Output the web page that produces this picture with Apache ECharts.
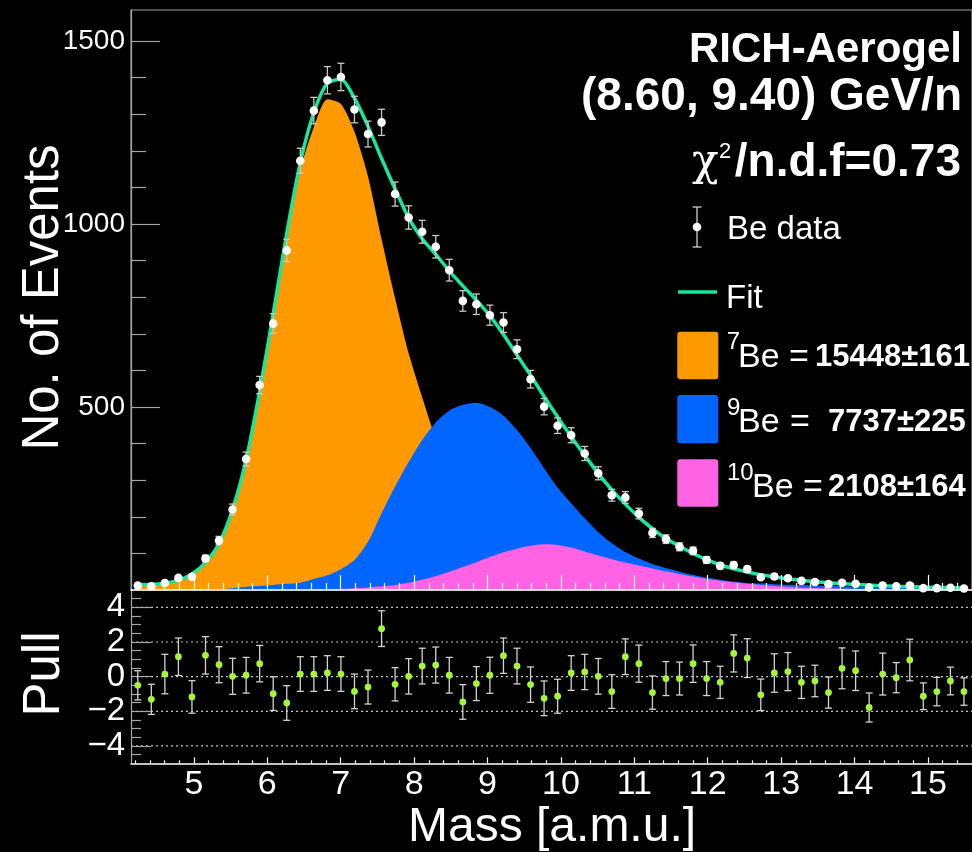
<!DOCTYPE html>
<html>
<head>
<meta charset="utf-8">
<title>Be mass fit - RICH-Aerogel</title>
<script src="https://cdn.jsdelivr.net/npm/echarts@6.0.0/dist/echarts.min.js"></script>
<style>
  html, body { margin: 0; padding: 0; background: #000; }
  #chart { width: 972px; height: 852px; }
</style>
</head>
<body>
<div id="chart"></div>
<script>
// Histogram binning of the reconstructed mass [a.m.u.]
const massLow = 4.1436;
const binWidth = 0.1845;
const massHigh = 15.6;

// Observed Be counts per bin
const dataCounts = [12, 10, 19, 33, 36, 86, 135, 220, 358, 560,
  728, 928, 1173, 1310, 1393, 1402, 1313, 1246, 1278, 1082,
  1018, 979, 938, 874, 790, 781, 751, 731, 658, 576,
  501, 449, 423, 373, 319, 259, 253, 209, 156, 139,
  118, 107, 82, 66, 68, 57, 35, 37, 32, 25,
  22, 16, 20, 17, 7, 12, 10, 12, 5, 5,
  6, 4];

// Total fit per bin
const fitTotal = [13.5, 15.5, 18.5, 27, 44, 75, 127, 220, 356, 543,
  755, 975, 1168, 1305, 1385, 1396, 1344, 1267, 1179, 1096,
  1017, 960, 917, 872, 831, 792, 749, 698, 642, 587,
  529, 473, 419, 368, 318.6, 273.5, 234.7, 198.6, 168, 140.6,
  119.6, 99.7, 83, 69, 58, 49, 41.5, 35.5, 30.5, 26.5,
  23, 20, 17.5, 15.3, 13.4, 11.8, 10.4, 9.2, 8.2, 7.3,
  6.5, 5.8];

// Isotope templates
const be7 = [13.5, 15.5, 18.5, 27, 44, 74.5, 125, 215, 347, 532,
  741, 958, 1148, 1265, 1341, 1328, 1252, 1130, 959, 797,
  647, 527, 414, 327, 261, 204, 159, 119, 92, 78,
  71, 70, 66, 67, 67, 61.5, 55.7, 45.6, 38, 29.6,
  25.6, 21.7, 18, 15, 14, 13, 10, 8.5, 7, 6,
  5, 4.2, 3.5, 3, 2.5, 2.1, 1.8, 1.5, 1.3, 1.1,
  0.9, 0.8];
const be9 = [0, 0, 0, 0, 0, 0.5, 2, 5, 9, 11,
  14, 17, 20, 30, 40, 57, 82, 132, 210, 283,
  350, 410, 458, 490, 506, 512, 500, 476, 437, 388,
  333, 280, 237, 196, 158, 128, 104, 86, 71, 60,
  50, 41, 34, 28, 23, 19, 17.5, 16, 14.5, 13.5,
  12.5, 11.3, 10.5, 9.3, 8.4, 7.7, 6.9, 6.3, 5.7, 5.2,
  4.7, 4.2];
const be10 = [0, 0, 0, 0, 0, 0, 0, 0, 0, 0,
  0, 0, 0, 1, 2, 3, 5, 7, 10, 14,
  20, 28, 38, 50, 63, 76, 90, 103, 113, 121,
  125, 123, 116, 105, 94, 84, 75, 67, 59, 51,
  44, 37, 31, 26, 21, 17, 14, 11, 9, 7,
  5.5, 4.5, 3.5, 3, 2.5, 2, 1.7, 1.4, 1.2, 1,
  0.9, 0.8];

// Pulls and their uncertainties
const pullValues = [-0.50, -1.31, 0.15, 1.15, -1.17, 1.23, 0.69, 0.02, 0.08, 0.75,
  -0.98, -1.52, 0.15, 0.15, 0.21, 0.15, -0.85, -0.60, 2.77, -0.44,
  0.02, 0.61, 0.67, 0.08, -1.46, -0.40, 0.08, 1.21, 0.61, -0.46,
  -1.25, -1.13, 0.21, 0.27, 0.02, -0.86, 1.15, 0.75, -0.92, -0.11,
  -0.11, 0.75, -0.11, -0.33, 1.34, 1.07, -1.05, 0.21, 0.29, -0.33,
  -0.25, -0.92, 0.48, 0.34, -1.78, 0.15, -0.06, 0.96, -1.13, -0.86,
  -0.25, -0.86];
const pullErrors = [0.84, 0.87, 1.14, 1.08, 0.94, 1.08, 1.04, 1.04, 1.03, 1.05,
  0.97, 1.00, 1.00, 1.00, 1.00, 1.00, 1.00, 0.98, 1.03, 0.96,
  1.02, 1.03, 1.04, 1.03, 1.00, 0.98, 1.04, 1.02, 1.03, 1.02,
  1.00, 0.98, 1.00, 1.02, 1.03, 0.97, 1.03, 1.07, 0.96, 0.98,
  0.95, 1.08, 0.98, 0.93, 1.07, 1.12, 0.91, 1.11, 1.10, 0.93,
  0.91, 0.90, 1.18, 1.14, 0.84, 1.21, 0.87, 1.20, 0.77, 0.82,
  0.80, 0.79];

// Tick labels
const countTicks = [500, 1000, 1500];
const massTicks = [5, 6, 7, 8, 9, 10, 11, 12, 13, 14, 15];
const pullTicks = [-4, -2, 0, 2, 4];

// Minor tick positions
const countMinor = [];
for (let v = 100; v < 1585; v += 100) if (v % 500 !== 0) countMinor.push(v);
const massMinor = [];
for (let k = 21; k <= 78; k++) if (k % 5 !== 0) massMinor.push(k / 5);
const pullMinor = [];
for (let k = -9; k <= 9; k++) if (k % 4 !== 0) pullMinor.push(k / 2);

const binCenters = dataCounts.map((_, i) => massLow + binWidth * (i + 0.5));

const FONT = '"Liberation Sans", Arial, Helvetica, sans-serif';
const C7 = '#ff9900', C9 = '#0066ff', C10 = '#ff63e3', CFIT = '#14e89c';
const GRAY = '#a6a6a6';

function areaSeries(name, values, color) {
  return {
    name, type: 'line', xAxisIndex: 0, yAxisIndex: 0,
    data: binCenters.map((x, i) => [x, values[i]]),
    showSymbol: false, smooth: 0.25, silent: true,
    lineStyle: { width: 0 }, areaStyle: { color, opacity: 1 }, z: 2
  };
}

function errorBarItem(color, dotColor, radius, cap) {
  return function (params, api) {
    const x = api.value(0), y = api.value(1), e = api.value(2);
    const c = api.coord([x, y]);
    const hi = api.coord([x, y + e]);
    const lo = api.coord([x, y - e]);
    const st = { stroke: color, lineWidth: 1.3 };
    return {
      type: 'group',
      children: [
        { type: 'line', shape: { x1: c[0], y1: hi[1], x2: c[0], y2: lo[1] }, style: st },
        { type: 'line', shape: { x1: c[0] - cap, y1: hi[1], x2: c[0] + cap, y2: hi[1] }, style: st },
        { type: 'line', shape: { x1: c[0] - cap, y1: lo[1], x2: c[0] + cap, y2: lo[1] }, style: st },
        { type: 'circle', shape: { cx: c[0], cy: c[1], r: radius }, style: { fill: dotColor } }
      ]
    };
  };
}

function txt(x, y, s, size, opt) {
  opt = opt || {};
  return {
    type: 'text', x, y, z: 100, rotation: opt.rot || 0,
    style: {
      text: s, fill: '#fff',
      font: (opt.bold ? 'bold ' : '') + size + 'px ' + (opt.family || FONT),
      textAlign: opt.align || 'left', textVerticalAlign: 'middle'
    }
  };
}

function hAxis(grid, ticks, len, opts) {
  return Object.assign({
    type: 'value', gridIndex: grid, min: massLow, max: massHigh, position: 'bottom', z: 5,
    axisLine: { show: false, onZero: false },
    axisTick: { show: true, inside: true, length: len, customValues: ticks, lineStyle: { color: '#fff', width: 1.2 } },
    axisLabel: { show: false }, splitLine: { show: false }
  }, opts || {});
}

function vAxis(grid, min, max, ticks, len, opts) {
  return Object.assign({
    type: 'value', gridIndex: grid, min, max, position: 'left', z: 5,
    axisLine: { show: false, onZero: false },
    axisTick: { show: true, inside: true, length: len, customValues: ticks, lineStyle: { color: GRAY, width: 1.2 } },
    axisLabel: { show: false }, splitLine: { show: false }
  }, opts || {});
}

const pullGridLines = pullTicks.map(v => ({
  type: 'line', xAxisIndex: 2, yAxisIndex: 2, silent: true, showSymbol: false, z: 1,
  data: [[massLow, v], [massHigh, v]],
  lineStyle: { color: '#c4c4c4', width: 1.2, type: [2, 3] }
}));

const chart = echarts.init(document.getElementById('chart'), null, { renderer: 'canvas' });
chart.setOption({
  backgroundColor: '#000',
  animation: false,
  grid: [
    { left: 131, top: 10, width: 849.5, height: 580, show: true, borderColor: '#9c9c9c', borderWidth: 1.2, backgroundColor: 'transparent' },
    { left: 131, top: 590, width: 849.5, height: 173.3 }
  ],
  xAxis: [
    hAxis(0, massTicks, 15, { axisLine: { show: true, onZero: false, lineStyle: { color: '#fff', width: 1.5 } } }),
    hAxis(0, massMinor, 7),
    hAxis(1, massTicks, 6, {
      axisLine: { show: true, onZero: false, lineStyle: { color: '#fff', width: 1.5 } },
      axisLabel: { show: true, customValues: massTicks, color: '#fff', fontSize: 34, fontFamily: FONT, margin: 4 }
    }),
    hAxis(1, massMinor, 3)
  ],
  yAxis: [
    vAxis(0, 0, 1585, countTicks, 29, {
      axisLine: { show: true, onZero: false, lineStyle: { color: GRAY, width: 1.2 } },
      axisLabel: {
        show: true, customValues: countTicks, color: '#fff', fontSize: 28, fontFamily: FONT, margin: 6,
        formatter: v => String(v)
      }
    }),
    vAxis(0, 0, 1585, countMinor, 15),
    vAxis(1, -5, 5, pullTicks, 20, {
      axisLine: { show: true, onZero: false, lineStyle: { color: GRAY, width: 1.2 } },
      axisLabel: {
        show: true, customValues: pullTicks, color: '#fff', fontSize: 33, fontFamily: FONT, margin: 6,
        formatter: v => (v < 0 ? '\u2212' + Math.abs(v) : String(v))
      }
    }),
    vAxis(1, -5, 5, pullMinor, 10)
  ],
  series: [
    areaSeries('7Be', be7, C7),
    areaSeries('9Be', be9, C9),
    areaSeries('10Be', be10, C10),
    {
      name: 'Fit', type: 'line', xAxisIndex: 0, yAxisIndex: 0, silent: true,
      data: binCenters.map((x, i) => [x, fitTotal[i]]),
      showSymbol: false, smooth: 0.25, z: 4,
      lineStyle: { color: CFIT, width: 3.5 }
    },
    {
      name: 'Be data', type: 'custom', xAxisIndex: 0, yAxisIndex: 0, z: 10, silent: true,
      data: binCenters.map((x, i) => [x, dataCounts[i], Math.sqrt(dataCounts[i])]),
      encode: { x: 0, y: 1 },
      renderItem: errorBarItem('#c8c8c8', '#fff', 4.3, 3.5)
    },
    ...pullGridLines,
    {
      name: 'Pull', type: 'custom', xAxisIndex: 2, yAxisIndex: 2, z: 10, silent: true,
      data: binCenters.map((x, i) => [x, pullValues[i], pullErrors[i]]),
      encode: { x: 0, y: 1 },
      renderItem: errorBarItem('#d2d2d2', '#a6f53a', 3.4, 3.5)
    }
  ],
  graphic: [
    // Axis titles
    txt(44, 297.5, 'No. of Events', 51, { rot: Math.PI / 2, align: 'center' }),
    txt(45, 674, 'Pull', 51, { rot: Math.PI / 2, align: 'center' }),
    txt(408, 828, 'Mass [a.m.u.]', 48),

    // Header
    txt(962, 50.8, 'RICH-Aerogel', 42, { bold: true, align: 'right' }),
    txt(962, 97.8, '(8.60, 9.40) GeV/n', 46, { bold: true, align: 'right' }),
    txt(692, 164, '\u03c7', 44, { family: '"DejaVu Serif", "Liberation Serif", serif' }),
    txt(719, 152, '2', 22),
    txt(961, 163.5, '/n.d.f=0.73', 46, { bold: true, align: 'right' }),

    // Legend: data marker
    {
      type: 'group', z: 100,
      children: [
        { type: 'line', shape: { x1: 697, y1: 207, x2: 697, y2: 247 }, style: { stroke: '#d0d0d0', lineWidth: 1.3 } },
        { type: 'line', shape: { x1: 692.5, y1: 207, x2: 701.5, y2: 207 }, style: { stroke: '#d0d0d0', lineWidth: 1.3 } },
        { type: 'line', shape: { x1: 692.5, y1: 247, x2: 701.5, y2: 247 }, style: { stroke: '#d0d0d0', lineWidth: 1.3 } },
        { type: 'circle', shape: { cx: 697, cy: 227, r: 4.3 }, style: { fill: '#fff' } }
      ]
    },
    txt(727, 230.3, 'Be data', 33),
    { type: 'line', z: 100, shape: { x1: 678, y1: 292, x2: 717, y2: 292 }, style: { stroke: CFIT, lineWidth: 3.5 } },
    txt(726, 298.5, 'Fit', 33),

    // Legend: isotope boxes
    { type: 'rect', z: 100, shape: { x: 677.3, y: 331.7, width: 41, height: 47.6, r: 3 }, style: { fill: C7 } },
    { type: 'rect', z: 100, shape: { x: 677.3, y: 395, width: 41, height: 48.3, r: 3 }, style: { fill: C9 } },
    { type: 'rect', z: 100, shape: { x: 677.3, y: 459.3, width: 41, height: 47.4, r: 3 }, style: { fill: C10 } },

    txt(726.7, 342.4, '7', 24),
    txt(738, 357.8, 'Be', 34),
    txt(789, 357.8, '=', 34),
    txt(815, 357.7, '15448\u00b1161', 31, { bold: true }),

    txt(727, 408.4, '9', 24),
    txt(738, 422.8, 'Be', 34),
    txt(790, 422.8, '=', 34),
    txt(828, 422.7, '7737\u00b1225', 31, { bold: true }),

    txt(727, 473, '10', 24),
    txt(752, 487.5, 'Be', 34),
    txt(803, 487.5, '=', 34),
    txt(828, 487.4, '2108\u00b1164', 31, { bold: true })
  ]
});
</script>
</body>
</html>
